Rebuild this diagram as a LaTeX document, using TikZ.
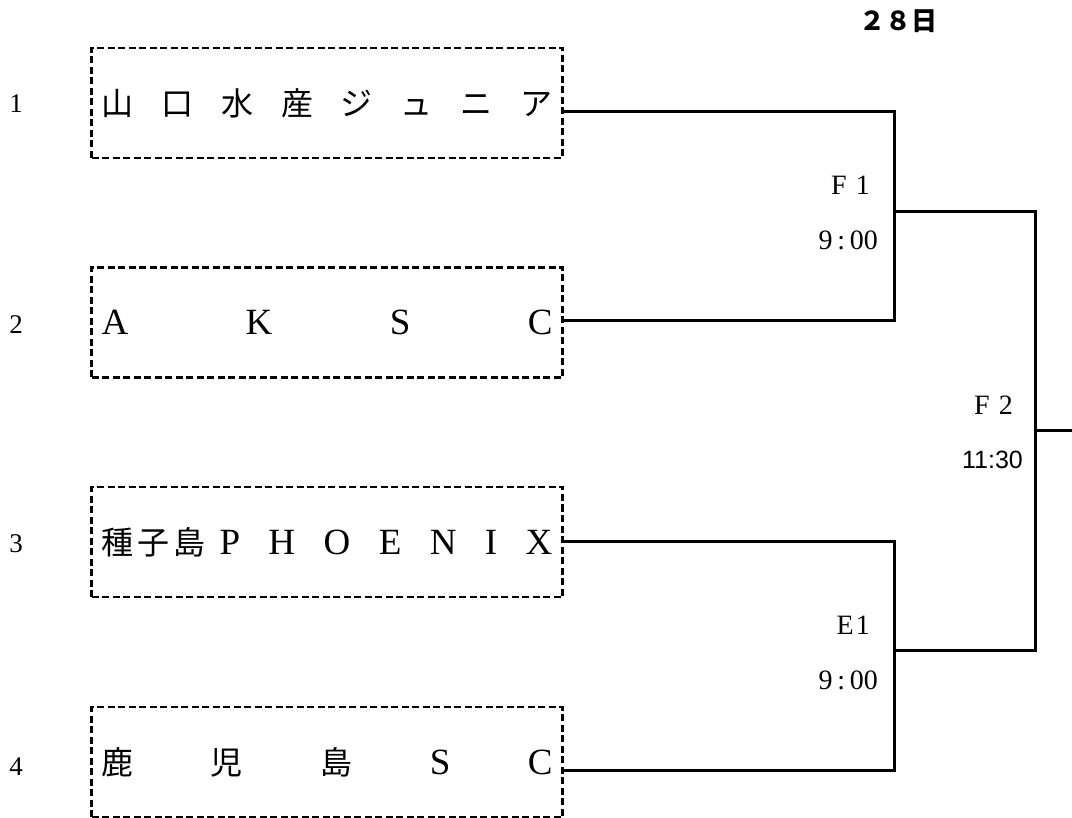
\documentclass[tikz,border=0pt]{standalone}
\usepackage{fontspec}
\setmainfont{Liberation Serif}
\newfontfamily\cjk{Noto Sans CJK JP}
\newfontfamily\gothic{Liberation Sans}
\usetikzlibrary{positioning}
\newcommand{\boxw}{451pt}
\tikzset{team/.style={draw,dash pattern=on 7pt off 3.5pt,line width=2.3pt,minimum width=471pt,minimum height=110pt,inner sep=0pt,font=\fontsize{37}{37}\selectfont}}
\tikzset{seed/.style={font=\fontsize{27}{27}\selectfont}}
\tikzset{match/.style={anchor=east,inner sep=0pt,font=\fontsize{28}{28}\selectfont}}
\tikzset{bracket/.style={line width=3pt}}

\begin{document}
\begin{tikzpicture}[x=1pt,y=-1pt]
\useasboundingbox (0,0) rectangle (1072,818);

% day
\node[inner sep=0pt,font=\cjk\bfseries\fontsize{26}{26}\selectfont] (day) at (898,21) {２８日};

% entries
\node[team] (t1) at (327,103) {\makebox[\boxw]{\cjk\fontsize{32}{32}\selectfont 山\hfill 口\hfill 水\hfill 産\hfill ジ\hfill ュ\hfill ニ\hfill ア}};
\node[team] (t2) at (327,322.5) {\makebox[\boxw]{A\hfill K\hfill S\hfill C}};
\node[team] (t3) at (327,542) {\makebox[\boxw]{{\cjk\fontsize{32}{32}\selectfont 種\hspace{4pt}子\hspace{4pt}島}\hspace{14pt}P\hfill H\hfill O\hfill E\hfill N\hfill I\hfill X}};
\node[team] (t4) at (327,762) {\makebox[\boxw]{{\cjk\fontsize{32}{32}\selectfont 鹿\hfill 児\hfill 島}\hfill S\hfill C}};

\node[seed] (n1) at (16,104) {1};
\node[seed] (n2) at (16,325) {2};
\node[seed] (n3) at (16,544) {3};
\node[seed] (n4) at (16,767) {4};

% rounds
\coordinate (f1) at (894,212);
\coordinate (e1) at (894,650);
\coordinate (f2) at (1035,431);
\coordinate (win) at (1072,431);

\draw[bracket] ([yshift=-9pt]t1.east) -| (f1) |- ([yshift=1.5pt]t2.east);
\draw[bracket] ([yshift=1pt]t3.east) -| (e1) |- ([yshift=-8pt]t4.east);
\draw[bracket] (f1) -| (f2) |- (e1);
\draw[bracket] (f2) -- (win);

% labels
\node[match] (f1name) at (870,185) {F\hspace{9pt}1};
\node[match] (f1time) at (878,240) {9\,:\,00};
\node[match] (e1name) at (870,625) {E\hspace{2pt}1};
\node[match] (e1time) at (878,680) {9\,:\,00};
\node[match] (f2name) at (1013,405) {F\hspace{9pt}2};
\node[match,font=\gothic\fontsize{25}{25}\selectfont] (f2time) at (1023,460) {11:30};

\end{tikzpicture}
\end{document}
